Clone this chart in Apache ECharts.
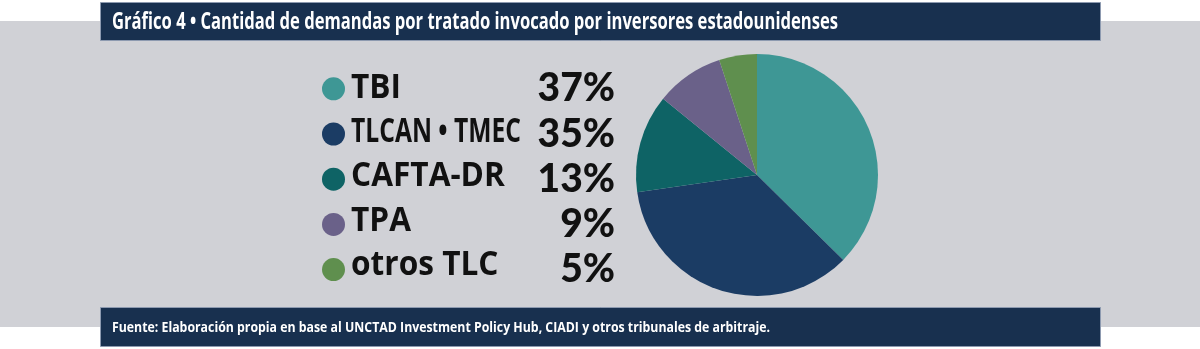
<!DOCTYPE html>
<html>
<head>
<meta charset="utf-8">
<script src="https://cdn.jsdelivr.net/npm/echarts@6/dist/echarts.min.js"></script>
<style>
html,body{margin:0;padding:0;background:#ffffff;}
#chart{width:1200px;height:349px;}
</style>
</head>
<body>
<div id="chart"></div>
<script>
const titleText = 'Gráfico 4 • Cantidad de demandas por tratado invocado por inversores estadounidenses';
const sourceText = 'Fuente: Elaboración propia en base al UNCTAD Investment Policy Hub, CIADI y otros tribunales de arbitraje.';
const categories = ['TBI', 'TLCAN • TMEC', 'CAFTA-DR', 'TPA', 'otros TLC'];
const values = [37, 35, 13, 9, 5];
const pctLabels = ['37%', '35%', '13%', '9%', '5%'];
const colors = ['#3e9795', '#1b3c64', '#0e6365', '#6a6189', '#5f8f4e'];

const measureCtx = document.createElement('canvas').getContext('2d');
function textWidth(text, font) {
  measureCtx.font = font;
  return measureCtx.measureText(text).width;
}
const titleFont = 'bold 23px "Open Sans"';
const srcFont = 'bold 15px "Open Sans"';
const nameFont = 'bold 34px "Open Sans"';
const titleScale = 726 / textWidth(titleText, titleFont);
const srcScale = 658 / textWidth(sourceText, srcFont);

// legend layout
const legTop = 69.3, rowH = 38, rowGap = 6.2, nameX = 351, nameMaxW = 170;

const chart = echarts.init(document.getElementById('chart'), null, {renderer: 'canvas'});
const pctMap = {};
categories.forEach((c, i) => { pctMap[c] = pctLabels[i]; });

const nameTexts = categories.map((c, i) => {
  const w = textWidth(c, nameFont);
  const s = Math.min(0.93, nameMaxW / w);
  return {
    type: 'text', z: 3, x: nameX, y: legTop + rowH / 2 + i * (rowH + rowGap), scaleX: s,
    style: {text: c, font: nameFont, fill: '#111111', verticalAlign: 'middle', align: 'left'}
  };
});

chart.setOption({
  animation: false,
  backgroundColor: '#ffffff',
  graphic: [
    {type: 'rect', z: 0, shape: {x: 0, y: 21, width: 1200, height: 306}, style: {fill: '#d0d1d6'}},
    {type: 'rect', z: 1, shape: {x: 100.5, y: 2.5, width: 1000, height: 38}, style: {fill: '#18304f', stroke: '#8d9ab0', lineWidth: 1}},
    {type: 'rect', z: 1, shape: {x: 100.5, y: 307.5, width: 1000, height: 39}, style: {fill: '#18304f', stroke: '#8d9ab0', lineWidth: 1}},
    {type: 'text', z: 2, x: 112, y: 22, scaleX: titleScale,
      style: {text: titleText, font: titleFont, fill: '#ffffff', verticalAlign: 'middle', align: 'left'}},
    {type: 'text', z: 2, x: 112, y: 328, scaleX: srcScale,
      style: {text: sourceText, font: srcFont, fill: '#ffffff', verticalAlign: 'middle', align: 'left'}}
  ].concat(nameTexts),
  legend: {
    orient: 'vertical',
    left: 322,
    top: legTop,
    padding: 0,
    itemWidth: 23,
    itemHeight: 23,
    itemGap: rowGap,
    icon: 'circle',
    selectedMode: false,
    data: categories,
    formatter: function (name) {
      return '{p|' + pctMap[name] + '}';
    },
    textStyle: {
      fontSize: 38,
      lineHeight: rowH,
      rich: {
        p: {fontFamily: 'Lato', fontWeight: 900, fontSize: 39, lineHeight: rowH, color: '#111111', width: 265, align: 'right'}
      }
    }
  },
  series: [{
    type: 'pie',
    center: [757, 175],
    radius: 121,
    startAngle: 90,
    clockwise: true,
    label: {show: false},
    labelLine: {show: false},
    emphasis: {disabled: true},
    itemStyle: {borderWidth: 0},
    data: categories.map((c, i) => ({name: c, value: values[i], itemStyle: {color: colors[i]}}))
  }]
});
</script>
</body>
</html>
